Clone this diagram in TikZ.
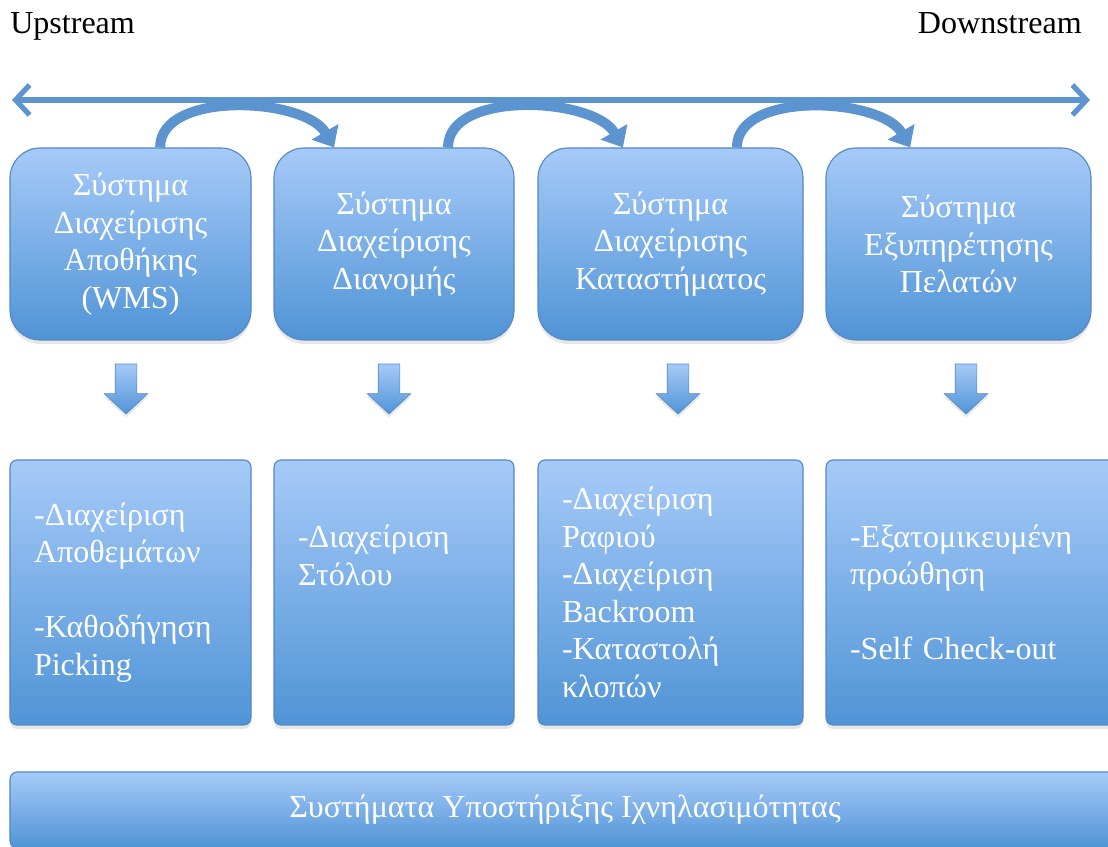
\documentclass[tikz,border=0pt]{standalone}
\usepackage{fontspec}
\setmainfont{Liberation Serif}
\usepackage{tikz}
\usetikzlibrary{shapes.arrows, arrows.meta, positioning, shadows}
\definecolor{boxtop}{RGB}{166,202,248}
\definecolor{boxbot}{RGB}{80,148,214}
\definecolor{boxline}{RGB}{84,136,198}
\definecolor{flowblue}{RGB}{91,148,206}
\newcommand{\sysfont}{\fontsize{22.8}{26.7}\selectfont}
\tikzset{
  sysbox/.style={rectangle, draw=boxline, top color=boxtop, bottom color=boxbot,
    text=white, align=center, font=\sysfont, rounded corners=0.75cm,
    minimum height=4.8cm, line width=0.8pt,
    drop shadow={shadow xshift=0pt, shadow yshift=-0.1cm, opacity=0.2}},
  funbox/.style={rectangle, draw=boxline, top color=boxtop, bottom color=boxbot,
    text=white, align=left, font=\sysfont, rounded corners=0.18cm,
    minimum height=6.625cm, inner xsep=0.6cm, line width=0.8pt,
    drop shadow={shadow xshift=0pt, shadow yshift=-0.1cm, opacity=0.2}},
  downarrow/.style={single arrow, shape border rotate=270, draw=boxline,
    top color=boxtop, bottom color=boxbot, inner sep=0pt, text width=0.525cm,
    minimum height=1.25cm, single arrow head extend=0.275cm,
    single arrow tip angle=94,
    drop shadow={shadow xshift=0pt, shadow yshift=-0.08cm, opacity=0.2}},
  flow/.style={{Straight Barb[length=0.35cm, width=0.75cm]}-{Straight Barb[length=0.35cm, width=0.75cm]},
    line width=0.13cm, color=flowblue},
  curvearrow/.style={-{Triangle[length=0.45cm, width=0.75cm]}, line width=0.25cm, color=flowblue},
  endtext/.style={font=\sysfont, inner sep=0pt}
}
\begin{document}
\begin{tikzpicture}
  \useasboundingbox (0,0) rectangle (27.7,21.15);
  % Upstream / downstream axis
  \node[endtext, anchor=base west] (up) at (0.25, 20.3) {Upstream};
  \node[endtext, anchor=base east] (down) at (27.05, 20.3) {Downstream};
  \coordinate (upend) at (0.3, 18.65);
  \coordinate (downend) at (27.25, 18.65);
  \draw[flow] (upend) -- (downend);

  % Four systems
  \node[sysbox, minimum width=6.025cm] (wms) at (3.2625, 15.05) {Σύστημα\\Διαχείρισης\\Αποθήκης\\(WMS)};
  \node[sysbox, minimum width=6.0cm] (dist) at (9.85, 15.05) {Σύστημα\\Διαχείρισης\\Διανομής};
  \node[sysbox, minimum width=6.625cm] (store) at (16.7625, 15.05) {Σύστημα\\Διαχείρισης\\Καταστήματος};
  \node[sysbox, minimum width=6.625cm] (cust) at (23.9625, 15.05) {Σύστημα\\Εξυπηρέτησης\\Πελατών};

  % Hand-over arrows
  \draw[curvearrow] ([xshift=0.74cm]wms.north) to[out=90, in=120, looseness=0.85] ([xshift=-1.5cm]dist.north);
  \draw[curvearrow] ([xshift=1.35cm]dist.north) to[out=90, in=120, looseness=0.85] ([xshift=-1.19cm]store.north);
  \draw[curvearrow] ([xshift=1.66cm]store.north) to[out=90, in=120, looseness=0.85] ([xshift=-1.21cm]cust.north);

  % Down arrows
  \node[downarrow] (d1) at (3.15, 11.55) {};
  \node[downarrow] (d2) at (9.725, 11.55) {};
  \node[downarrow] (d3) at (16.95, 11.55) {};
  \node[downarrow] (d4) at (24.15, 11.55) {};

  % Functions
  \node[funbox, text width=4.825cm] (wmsf) at (3.2625, 6.3375) {-Διαχείριση\\Αποθεμάτων\\[\baselineskip]-Καθοδήγηση\\Picking};
  \node[funbox, text width=4.8cm] (distf) at (9.85, 6.3375) {-Διαχείριση\\Στόλου\\~\\~};
  \node[funbox, text width=5.425cm] (storef) at (16.7625, 6.3375) {-Διαχείριση\\Ραφιού\\-Διαχείριση\\Backroom\\-Καταστολή\\κλοπών};
  \node[funbox, text width=6.15cm] (custf) at (24.325, 6.3375) {-Εξατομικευμένη\\προώθηση\\[\baselineskip]-Self Check-out};

  % Traceability support
  \node[funbox, align=center, minimum width=27.75cm, minimum height=1.9cm] (trace) at (14.125, 0.9) {Συστήματα Υποστήριξης Ιχνηλασιμότητας};
\end{tikzpicture}
\end{document}
